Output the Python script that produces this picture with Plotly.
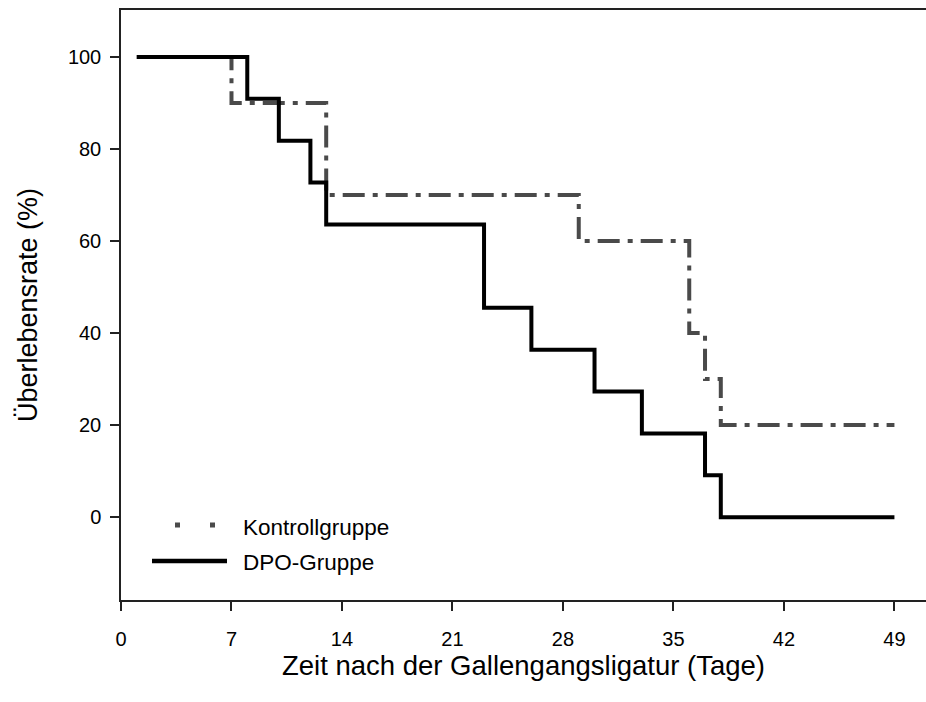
import plotly.graph_objects as go

# Data (Kaplan-Meier step curves)
kontroll_tage = [1, 7, 13, 29, 36, 37, 38, 49]
kontroll_rate = [100, 90, 70, 60, 40, 30, 20, 20]
dpo_tage = [1, 8, 10, 12, 13, 23, 26, 30, 33, 37, 38, 49]
dpo_rate = [100, 90.9, 81.8, 72.7, 63.6, 45.5, 36.4, 27.3, 18.2, 9.1, 0, 0]
x_ticks = [0, 7, 14, 21, 28, 35, 42, 49]
y_ticks = [0, 20, 40, 60, 80, 100]
series_names = ["Kontrollgruppe", "DPO-Gruppe"]

FONT = "Liberation Sans, Arial, sans-serif"
W, H = 926, 702
L, R, T, B = 121, 0, 10, 102
PW, PH = W - L - R, H - T - B

def px(xp):
    return (xp - L) / PW

def py(yp):
    return (H - B - yp) / PH

fig = go.Figure()
fig.add_trace(go.Scatter(
    x=kontroll_tage, y=kontroll_rate, mode="lines", line_shape="hv",
    line=dict(color="#4a4a4a", width=4, dash="22px,8px,5px,8px"),
    name=series_names[0], showlegend=False))
fig.add_trace(go.Scatter(
    x=dpo_tage, y=dpo_rate, mode="lines", line_shape="hv",
    line=dict(color="black", width=4),
    name=series_names[1], showlegend=False))

# Manual legend
shapes = [
    dict(type="line", xref="paper", yref="paper",
         x0=px(152), x1=px(229), y0=py(525), y1=py(525),
         line=dict(color="#4a4a4a", width=5, dash="0px,23px,5px,30px,5px,60px")),
    dict(type="line", xref="paper", yref="paper",
         x0=px(152), x1=px(227), y0=py(561), y1=py(561),
         line=dict(color="black", width=4.5)),
]
annotations = [
    dict(x=px(241), y=py(527), xref="paper", yref="paper", text=series_names[0],
         showarrow=False, xanchor="left", yanchor="middle",
         font=dict(family=FONT, size=22.5, color="black")),
    dict(x=px(241), y=py(562), xref="paper", yref="paper", text=series_names[1],
         showarrow=False, xanchor="left", yanchor="middle",
         font=dict(family=FONT, size=22.5, color="black")),
]

fig.update_layout(
    width=W, height=H,
    margin=dict(l=L, r=R, t=T, b=B),
    paper_bgcolor="white", plot_bgcolor="white",
    font=dict(family=FONT, size=20, color="black"),
    shapes=shapes, annotations=annotations,
    xaxis=dict(range=[0, 51], tickvals=x_ticks, ticktext=[str(v) for v in x_ticks],
               showgrid=False, zeroline=False, showline=True, linecolor="#222",
               linewidth=1.5, mirror=True, ticks="outside", ticklen=9,
               tickwidth=1.5, tickcolor="#222", ticklabelstandoff=11,
               tickfont=dict(family=FONT, size=20),
               title=dict(text="Zeit nach der Gallengangsligatur (Tage)",
                          font=dict(family=FONT, size=27.5), standoff=3)),
    yaxis=dict(range=[-18, 110.2], tickvals=y_ticks, ticktext=[str(v) for v in y_ticks],
               showgrid=False, zeroline=False, showline=True, linecolor="#222",
               linewidth=1.5, ticks="outside", ticklen=9, tickwidth=1.5,
               tickcolor="#222", ticklabelstandoff=5,
               tickfont=dict(family=FONT, size=20),
               title=dict(text="Überlebensrate (%)",
                          font=dict(family=FONT, size=27), standoff=22)),
)

fig.write_html("out.html")
